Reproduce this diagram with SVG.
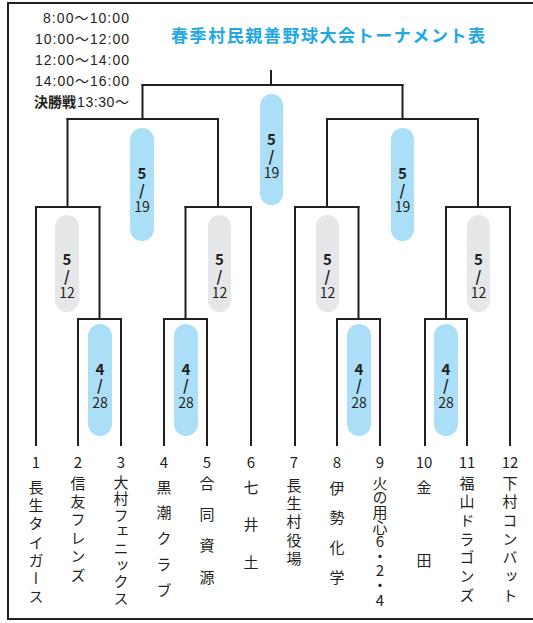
<svg xmlns="http://www.w3.org/2000/svg" width="533" height="623" viewBox="0 0 533 623">
<style>
.ln{fill:none;stroke:#231f20;stroke-width:2;stroke-linecap:square}
.pb{fill:#abdff8}
.pg{fill:#e6e7e8}
.t{font-family:"Noto Sans CJK JP","Noto Sans",sans-serif;fill:#231f20}
.pl{font-size:14px;text-anchor:middle}
.b{font-weight:bold;font-size:15px}
.num{font-size:15px;text-anchor:middle}
.nm{font-size:15px;writing-mode:vertical-rl;text-orientation:upright}
.tm{font-family:"Liberation Sans","Noto Sans CJK JP",sans-serif;font-size:14px;fill:#231f20}
</style>
<rect x="8" y="3" width="527" height="616" fill="#fff" stroke="#231f20" stroke-width="2"/>
<g id="header">
<text class="t" x="171" y="42" font-size="17" font-weight="bold" style="fill:#22a7e3" textLength="314" lengthAdjust="spacing">春季村民親善野球大会トーナメント表</text>
<text class="tm" x="43" y="23" textLength="86" lengthAdjust="spacing">8:00～10:00</text>
<text class="tm" x="35" y="44" textLength="94" lengthAdjust="spacing">10:00～12:00</text>
<text class="tm" x="35" y="65" textLength="94" lengthAdjust="spacing">12:00～14:00</text>
<text class="tm" x="35" y="86" textLength="94" lengthAdjust="spacing">14:00～16:00</text>
<text class="tm" x="34" y="107"><tspan font-weight="bold" font-family="Noto Sans CJK JP, sans-serif">決勝戦</tspan><tspan x="77" textLength="52" lengthAdjust="spacing">13:30～</tspan></text>
</g>
<g id="connectors">
<path class="ln" d="M78,445V319H121V445M99.5,319V207"/>
<path class="ln" d="M36,445V207H99.5M67.5,207V119"/>
<path class="ln" d="M164,445V319H207V445M185.5,319V207"/>
<path class="ln" d="M251,445V207H185.5M218,207V119"/>
<path class="ln" d="M67.5,119H218M142.5,119V85"/>
<path class="ln" d="M337,445V319H380V445M358.5,319V207"/>
<path class="ln" d="M295,445V207H358.5M327,207V119"/>
<path class="ln" d="M425,445V319H467V445M446,319V207"/>
<path class="ln" d="M510,445V207H446M478,207V119"/>
<path class="ln" d="M327,119H478M402.5,119V85"/>
<path class="ln" d="M142.5,85H402.5M271,85V71"/>
</g>
<g id="final">
<rect class="pb" x="260" y="94" width="23" height="111" rx="11.5"/>
<text class="t pl" x="271.5" y="145"><tspan class="b">5</tspan><tspan class="b" x="271.5" dy="17">/</tspan><tspan x="271.5" dy="16">19</tspan></text>
</g>
<g id="semi-left">
<rect class="pb" x="130" y="128" width="24" height="113" rx="12"/>
<text class="t pl" x="142" y="179"><tspan class="b">5</tspan><tspan class="b" x="142" dy="17">/</tspan><tspan x="142" dy="16">19</tspan></text>
</g>
<g id="semi-right">
<rect class="pb" x="391" y="128" width="23" height="113" rx="11.5"/>
<text class="t pl" x="402.5" y="179"><tspan class="b">5</tspan><tspan class="b" x="402.5" dy="17">/</tspan><tspan x="402.5" dy="16">19</tspan></text>
</g>
<g id="qf1">
<rect class="pg" x="55" y="215" width="24" height="97" rx="12"/>
<text class="t pl" x="67" y="265"><tspan class="b">5</tspan><tspan class="b" x="67" dy="17">/</tspan><tspan x="67" dy="16">12</tspan></text>
</g>
<g id="qf2">
<rect class="pg" x="208" y="215" width="23" height="97" rx="11.5"/>
<text class="t pl" x="219.5" y="265"><tspan class="b">5</tspan><tspan class="b" x="219.5" dy="17">/</tspan><tspan x="219.5" dy="16">12</tspan></text>
</g>
<g id="qf3">
<rect class="pg" x="316" y="215" width="23" height="97" rx="11.5"/>
<text class="t pl" x="327.5" y="265"><tspan class="b">5</tspan><tspan class="b" x="327.5" dy="17">/</tspan><tspan x="327.5" dy="16">12</tspan></text>
</g>
<g id="qf4">
<rect class="pg" x="467" y="215" width="23" height="97" rx="11.5"/>
<text class="t pl" x="478.5" y="265"><tspan class="b">5</tspan><tspan class="b" x="478.5" dy="17">/</tspan><tspan x="478.5" dy="16">12</tspan></text>
</g>
<g id="r1a">
<rect class="pb" x="88" y="324" width="24" height="112" rx="12"/>
<text class="t pl" x="100" y="375"><tspan class="b">4</tspan><tspan class="b" x="100" dy="16">/</tspan><tspan x="100" dy="17">28</tspan></text>
</g>
<g id="r1b">
<rect class="pb" x="174" y="324" width="24" height="112" rx="12"/>
<text class="t pl" x="186" y="375"><tspan class="b">4</tspan><tspan class="b" x="186" dy="16">/</tspan><tspan x="186" dy="17">28</tspan></text>
</g>
<g id="r1c">
<rect class="pb" x="347" y="324" width="24" height="112" rx="12"/>
<text class="t pl" x="359" y="375"><tspan class="b">4</tspan><tspan class="b" x="359" dy="16">/</tspan><tspan x="359" dy="17">28</tspan></text>
</g>
<g id="r1d">
<rect class="pb" x="434" y="324" width="24" height="112" rx="12"/>
<text class="t pl" x="446" y="375"><tspan class="b">4</tspan><tspan class="b" x="446" dy="16">/</tspan><tspan x="446" dy="17">28</tspan></text>
</g>
<g id="team1"><text class="t num" x="36" y="468">1</text><text class="t nm" x="36" y="479.5" letter-spacing="3.3">長生タイガース</text></g>
<g id="team2"><text class="t num" x="78" y="468">2</text><text class="t nm" x="78" y="475.5" letter-spacing="3.4">信友フレンズ</text></g>
<g id="team3"><text class="t num" x="121" y="468">3</text><text class="t nm" x="121" y="474.5" letter-spacing="1.6">大村フェニックス</text></g>
<g id="team4"><text class="t num" x="164" y="468">4</text><text class="t nm" x="164" y="479.5">黒<tspan dy="10.75">潮</tspan><tspan dy="10.75">ク</tspan><tspan dy="10.75">ラ</tspan><tspan dy="10.75">ブ</tspan></text></g>
<g id="team5"><text class="t num" x="207" y="468">5</text><text class="t nm" x="207" y="475.5">合<tspan dy="16.3">同</tspan><tspan dy="16.3">資</tspan><tspan dy="16.3">源</tspan></text></g>
<g id="team6"><text class="t num" x="251" y="468">6</text><text class="t nm" x="251" y="479.5">七<tspan dy="22.5">井</tspan><tspan dy="22.5">土</tspan></text></g>
<g id="team7"><text class="t num" x="294" y="468">7</text><text class="t nm" x="294" y="477.5" letter-spacing="3.3">長生村役場</text></g>
<g id="team8"><text class="t num" x="337" y="468">8</text><text class="t nm" x="337" y="480.5">伊<tspan dy="14.7">勢</tspan><tspan dy="14.7">化</tspan><tspan dy="14.7">学</tspan></text></g>
<g id="team9"><text class="t num" x="380" y="468">9</text><text class="t nm" x="380" y="475.5" letter-spacing="-0.4">火の用心6・2・4</text></g>
<g id="team10"><text class="t num" x="424" y="468">10</text><text class="t nm" x="424" y="479.5">金<tspan dy="58">田</tspan></text></g>
<g id="team11"><text class="t num" x="467" y="468">11</text><text class="t nm" x="467" y="475.5" letter-spacing="3.7">福山ドラゴンズ</text></g>
<g id="team12"><text class="t num" x="510" y="468">12</text><text class="t nm" x="510" y="475.5" letter-spacing="3.7">下村コンバット</text></g>
</svg>
